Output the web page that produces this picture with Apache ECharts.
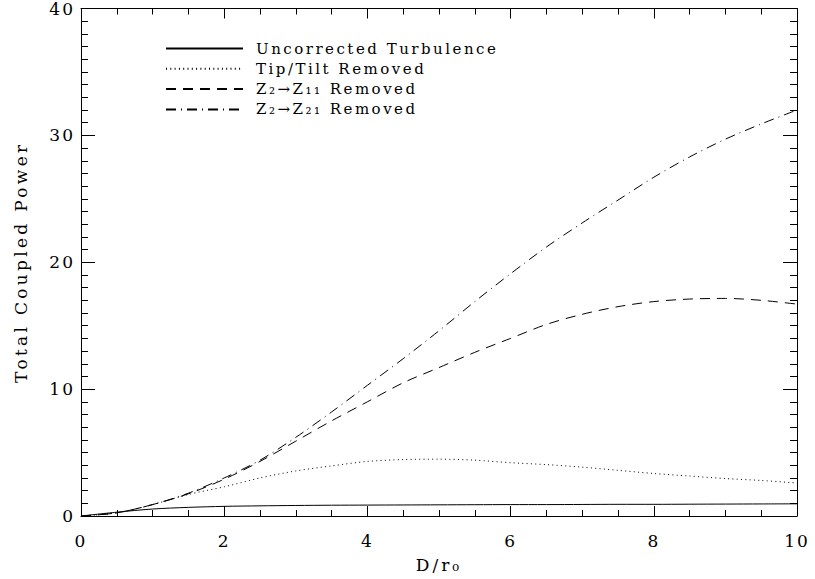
<!DOCTYPE html>
<html>
<head>
<meta charset="utf-8">
<script src="https://cdn.jsdelivr.net/npm/echarts@6/dist/echarts.min.js"></script>
<style>
html,body{margin:0;padding:0;background:#fff}
#c{width:815px;height:579px}
</style>
</head>
<body>
<div id="c"></div>
<script>
var dr0 = [0,0.5,1,1.5,2,2.5,3,3.5,4,4.5,5,5.5,6,6.5,7,7.5,8,8.5,9,9.5,10];
var uncorrected = [0,0.3,0.55,0.68,0.76,0.8,0.83,0.85,0.86,0.87,0.88,0.89,0.9,0.9,0.91,0.92,0.92,0.93,0.94,0.95,0.96];
var tipTilt = [0,0.25,0.9,1.7,2.3,3.0,3.55,3.95,4.3,4.45,4.48,4.4,4.2,4.05,3.85,3.6,3.35,3.15,2.95,2.8,2.6];
var z2z11 = [0,0.25,0.9,1.75,2.9,4.3,5.9,7.5,9.0,10.5,11.7,12.9,14.0,15.1,15.9,16.5,16.9,17.1,17.15,17.0,16.7];
var z2z21 = [0,0.25,0.9,1.8,3.0,4.4,6.2,8.2,10.3,12.4,14.6,16.9,19.1,21.2,23.1,24.9,26.7,28.3,29.7,30.9,32.0];
var seriesNames = ['Uncorrected Turbulence','Tip/Tilt Removed','Z\u2082\u2192Z\u2081\u2081 Removed','Z\u2082\u2192Z\u2082\u2081 Removed'];
var xTicks = [0,2,4,6,8,10];
var yTicks = [0,10,20,30,40];

var FONT = '"DejaVu Serif", serif';
function pairs(ys){ return dr0.map(function(x,i){ return [x, ys[i]]; }); }
var dashes = ['solid',[1,3.3],[10,7],[10,5,1,5]];
var allData = [uncorrected, tipTilt, z2z11, z2z21];

var chart = echarts.init(document.getElementById('c'), null, {renderer:'svg'});
var axisCommon = {
  axisLine:{show:true, onZero:false, lineStyle:{color:'#000', width:1}},
  splitLine:{show:false}
};
chart.setOption({
  animation:false,
  backgroundColor:'#fff',
  grid:{left:81, right:18, top:6, bottom:63, containLabel:false},
  legend:{
    orient:'vertical', left:165, top:41, padding:0, itemWidth:77, itemHeight:14, itemGap:5.3,
    data:seriesNames.map(function(n){return {name:n};}),
    itemStyle:{opacity:0},
    textStyle:{fontFamily:FONT, fontSize:15, color:'#000', padding:[0,0,0,8], lineHeight:14},
    selectedMode:false
  },
  xAxis:[
    Object.assign({type:'value', min:0, max:10, interval:2, position:'bottom',
      name:'D/r\u2080', nameLocation:'middle', nameGap:40,
      nameTextStyle:{fontFamily:FONT, fontSize:17, color:'#000'},
      axisTick:{show:true, inside:true, length:10, lineStyle:{color:'#000'}},
      minorTick:{show:true, splitNumber:4, length:6, lineStyle:{color:'#000'}},
      axisLabel:{fontFamily:FONT, fontSize:17, color:'#000', margin:16}
    }, axisCommon),
    Object.assign({type:'value', min:0, max:10, interval:2, position:'top',
      axisTick:{show:true, inside:true, length:10, lineStyle:{color:'#000'}},
      minorTick:{show:true, splitNumber:4, length:6, lineStyle:{color:'#000'}},
      axisLabel:{show:false}
    }, axisCommon)
  ],
  yAxis:[
    Object.assign({type:'value', min:0, max:40, interval:10, position:'left',
      name:'Total Coupled Power', nameLocation:'middle', nameGap:52, nameRotate:90,
      nameTextStyle:{fontFamily:FONT, fontSize:17, color:'#000'},
      axisTick:{show:true, inside:true, length:14, lineStyle:{color:'#000'}},
      minorTick:{show:true, splitNumber:10, length:7, lineStyle:{color:'#000'}},
      axisLabel:{fontFamily:FONT, fontSize:17, color:'#000', margin:6}
    }, axisCommon),
    Object.assign({type:'value', min:0, max:40, interval:10, position:'right',
      axisTick:{show:true, inside:true, length:14, lineStyle:{color:'#000'}},
      minorTick:{show:true, splitNumber:10, length:7, lineStyle:{color:'#000'}},
      axisLabel:{show:false}
    }, axisCommon)
  ],
  series: seriesNames.map(function(n,i){
    return {
      name:n, type:'line', xAxisIndex:0, yAxisIndex:0,
      data:pairs(allData[i]), smooth:0.3, showSymbol:false, symbol:'none',
      lineStyle:{color:'#000', width:1, type:dashes[i]},
      itemStyle:{color:'#000'}
    };
  })
});

// emulate the wide letter spacing of the original vector font
function spacing(){
  var texts = document.querySelectorAll('#c svg text');
  texts.forEach(function(t){
    var s = t.textContent;
    var ls;
    if (s === 'Total Coupled Power') ls = 3.3;
    else if (seriesNames.indexOf(s) >= 0) ls = 2.5;
    else if (s.indexOf('D/') === 0) ls = 3;
    else ls = 2;
    t.style.letterSpacing = ls + 'px';
  });
}
spacing();
</script>
</body>
</html>
